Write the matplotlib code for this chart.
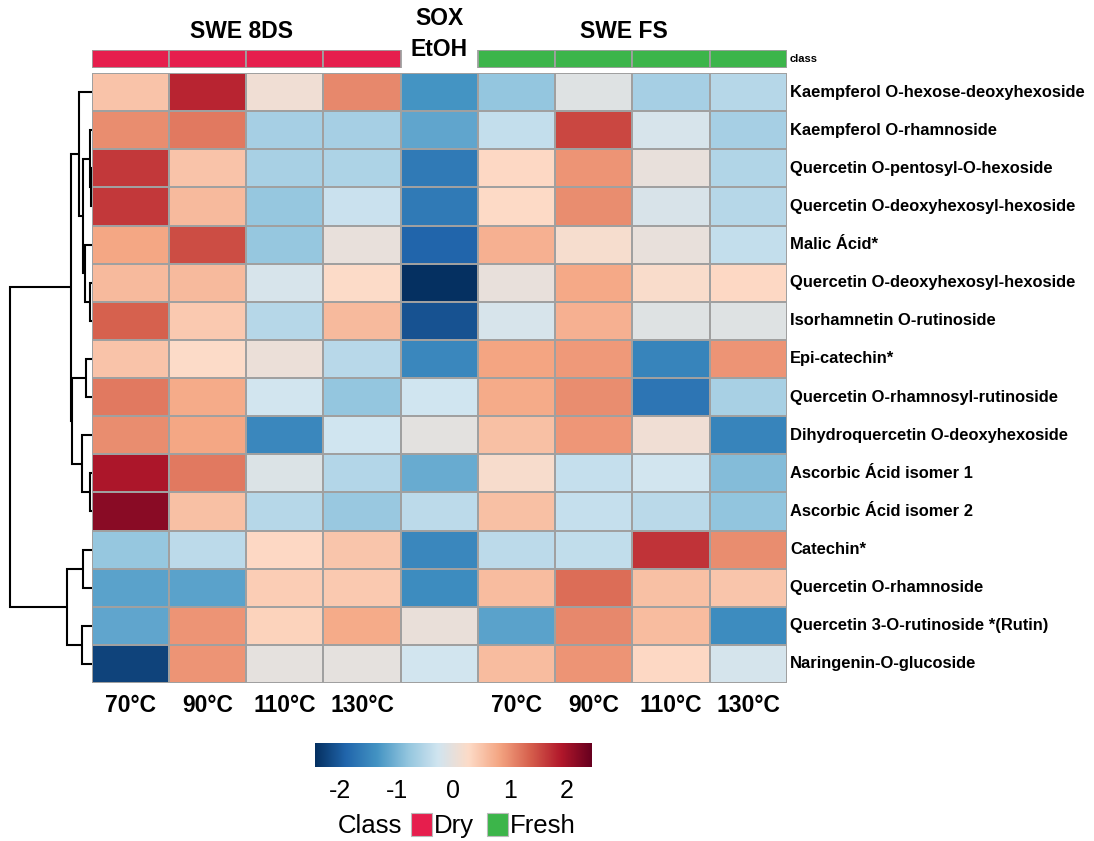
import numpy as np
import matplotlib
matplotlib.use('Agg')
import matplotlib.pyplot as plt
from matplotlib.colors import LinearSegmentedColormap
from matplotlib.patches import Rectangle
from matplotlib import font_manager

names = {f.name for f in font_manager.fontManager.ttflist}
FONT = ['Liberation Sans', 'DejaVu Sans']

# ---------------- data ----------------
compounds = [
    "Kaempferol O-hexose-deoxyhexoside",
    "Kaempferol O-rhamnoside",
    "Quercetin O-pentosyl-O-hexoside",
    "Quercetin O-deoxyhexosyl-hexoside",
    "Malic Ácid*",
    "Quercetin O-deoxyhexosyl-hexoside",
    "Isorhamnetin O-rutinoside",
    "Epi-catechin*",
    "Quercetin O-rhamnosyl-rutinoside",
    "Dihydroquercetin O-deoxyhexoside",
    "Ascorbic Ácid isomer 1",
    "Ascorbic Ácid isomer 2",
    "Catechin*",
    "Quercetin O-rhamnoside",
    "Quercetin 3-O-rutinoside *(Rutin)",
    "Naringenin-O-glucoside",
]
col_labels = ["70°C", "90°C", "110°C", "130°C", "", "70°C", "90°C", "110°C", "130°C"]
col_class = ["Dry", "Dry", "Dry", "Dry", None, "Fresh", "Fresh", "Fresh", "Fresh"]
group_titles = ["SWE 8DS", "SOX", "EtOH", "SWE FS"]

values = [
    [0.50, 1.80, 0.10, 1.05, -1.35, -0.80, -0.10, -0.65, -0.50],
    [1.00, 1.15, -0.65, -0.65, -1.15, -0.40, 1.55, -0.20, -0.65],
    [1.65, 0.50, -0.62, -0.58, -1.65, 0.30, 0.95, 0.00, -0.55],
    [1.65, 0.60, -0.78, -0.33, -1.65, 0.28, 1.00, -0.18, -0.50],
    [0.80, 1.50, -0.77, 0.00, -1.90, 0.70, 0.18, 0.00, -0.40],
    [0.60, 0.60, -0.20, 0.25, -2.45, 0.00, 0.78, 0.22, 0.30],
    [1.35, 0.45, -0.50, 0.60, -2.10, -0.20, 0.70, -0.10, -0.10],
    [0.50, 0.25, 0.05, -0.48, -1.50, 0.82, 0.90, -1.55, 0.95],
    [1.15, 0.75, -0.25, -0.80, -0.27, 0.75, 1.00, -1.72, -0.62],
    [1.00, 0.80, -1.50, -0.27, -0.05, 0.55, 0.92, 0.10, -1.55],
    [1.95, 1.15, -0.15, -0.52, -1.10, 0.20, -0.38, -0.25, -0.90],
    [2.20, 0.55, -0.50, -0.75, -0.45, 0.55, -0.38, -0.47, -0.82],
    [-0.77, -0.45, 0.30, 0.48, -1.50, -0.45, -0.42, 1.70, 1.00],
    [-1.20, -1.20, 0.42, 0.45, -1.45, 0.58, 1.25, 0.55, 0.48],
    [-1.15, 0.95, 0.35, 0.75, 0.03, -1.20, 1.05, 0.58, -1.45],
    [-2.25, 0.95, -0.03, -0.03, -0.25, 0.58, 0.95, 0.30, -0.22],
]

# row dendrogram merges: (left, right, height); new node ids start at 16
merges = [
    (2, 3, 0.8), (1, 16, 2.0), (5, 6, 2.0), (4, 18, 7.0), (17, 19, 9.0),
    (0, 20, 13.0), (7, 8, 6.0), (10, 11, 2.0), (9, 23, 10.0), (22, 24, 19.5),
    (21, 25, 21.0), (12, 13, 8.5), (14, 15, 9.5), (27, 28, 25.0), (26, 29, 82.0),
]

class_colors = {"Dry": "#E61E4D", "Fresh": "#3CB54A"}
palette = ["#053061", "#2166AC", "#4393C3", "#92C5DE", "#D1E5F0",
           "#FDDBC7", "#F4A582", "#D6604D", "#B2182B", "#67001F"]
cmap = LinearSegmentedColormap.from_list("rdbu10", palette, N=256)
VMIN, VMAX = -2.45, 2.45

# ---------------- layout ----------------
W, H = 1094, 841
fig = plt.figure(figsize=(W / 100, H / 100), dpi=100)


def rect(x0, y0, x1, y1):
    return [x0 / W, 1 - y1 / H, (x1 - x0) / W, (y1 - y0) / H]


def fp(x, y):
    return x / W, 1 - y / H


HX0, HX1, HY0, HY1 = 91.6, 787, 73, 683
GRID = "#A0A0A0"

ax = fig.add_axes(rect(HX0, HY0, HX1, HY1))
data = np.array(values)
nr, nc = data.shape
ax.pcolormesh(np.arange(nc + 1), np.arange(nr + 1), data, cmap=cmap,
              vmin=VMIN, vmax=VMAX, edgecolors=GRID, linewidth=1.3)
ax.set_xlim(0, nc)
ax.set_ylim(nr, 0)
ax.set_xticks([])
ax.set_yticks([])
for s in ax.spines.values():
    s.set_visible(False)

# row labels
for i, name in enumerate(compounds):
    ax.text(nc + 0.04, i + 0.5, name, ha="left", va="center",
            fontsize=11.9, fontweight="bold", family=FONT, clip_on=False)

# column labels
for j, lab in enumerate(col_labels):
    if lab:
        ax.text(j + 0.5, nr + 0.6, lab, ha="center", va="center",
                fontsize=16.5, fontweight="bold", family=FONT, clip_on=False)

# class bar
axc = fig.add_axes(rect(HX0, 49.5, HX1, 67.5), sharex=ax)
for j, c in enumerate(col_class):
    if c is not None:
        axc.bar(j + 0.5, 1, width=1, bottom=0, color=class_colors[c],
                edgecolor=GRID, linewidth=1.3)
axc.set_ylim(0, 1)
axc.axis("off")
fig.text(*fp(790, 58.5), "class", ha="left", va="center", fontsize=8,
         fontweight="bold", family=FONT)

# group titles
fig.text(*fp(241, 31), group_titles[0], ha="center", va="center", fontsize=16.5,
         fontweight="bold", family=FONT)
fig.text(*fp(439, 18.5), group_titles[1], ha="center", va="center", fontsize=16.5,
         fontweight="bold", family=FONT)
fig.text(*fp(439, 50), group_titles[2], ha="center", va="center", fontsize=16.5,
         fontweight="bold", family=FONT)
fig.text(*fp(624, 31), group_titles[3], ha="center", va="center", fontsize=16.5,
         fontweight="bold", family=FONT)

# dendrogram
axd = fig.add_axes(rect(8, HY0, HX0, HY1), sharey=ax)
pos = {i: (i + 0.5, 0.0) for i in range(nr)}
for k, (a, b, h) in enumerate(merges):
    ya, ha_ = pos[a]
    yb, hb = pos[b]
    axd.plot([ha_, h, h, hb], [ya, ya, yb, yb], color="black", lw=1.5,
             solid_joinstyle="miter", solid_capstyle="butt")
    pos[nr + k] = ((ya + yb) / 2, h)
axd.set_xlim(83.6, 0)
axd.set_ylim(nr, 0)
axd.axis("off")

# colorbar
axcb = fig.add_axes(rect(315, 743, 592, 767))
grad = np.linspace(VMIN, VMAX, 256)[None, :]
axcb.imshow(grad, aspect="auto", cmap=cmap, vmin=VMIN, vmax=VMAX,
            extent=[VMIN, VMAX, 0, 1])
axcb.set_yticks([])
ticks = [-2, -1, 0, 1, 2]
axcb.set_xticks(ticks)
axcb.set_xticklabels([str(t) for t in ticks], family=FONT, fontsize=18)
axcb.tick_params(axis="x", length=0, pad=9)
for s in axcb.spines.values():
    s.set_visible(False)

# class legend
fig.text(*fp(338, 826), "Class", ha="left", va="center", fontsize=18.5,
         family=FONT)
legend_items = [("Dry", 411), ("Fresh", 487)]
for lab, x in legend_items:
    fig.patches.append(Rectangle(fp(x, 836), 21 / W, 23 / H,
                                 transform=fig.transFigure,
                                 facecolor=class_colors[lab],
                                 edgecolor="#BBBBBB", linewidth=0.8))
    fig.text(*fp(x + 23, 826), lab, ha="left", va="center", fontsize=18.5,
             family=FONT)

fig.savefig("out.png", dpi=100, facecolor="white")
